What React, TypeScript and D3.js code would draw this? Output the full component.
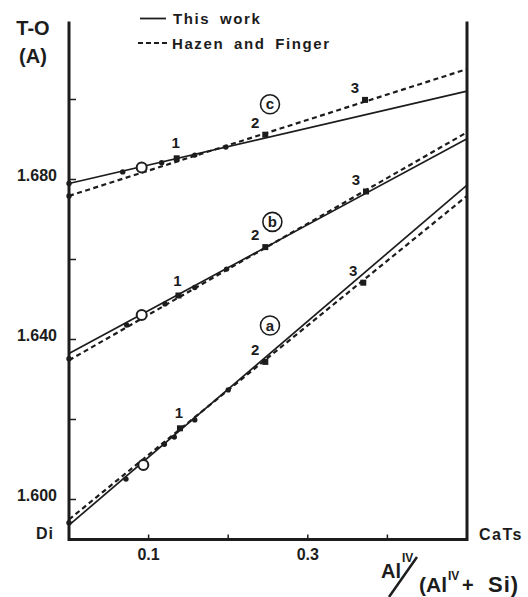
import React from 'react';
import * as d3 from 'd3';

// axis ticks (only some carry labels)
const xTicks = [0.1, 0.2, 0.3, 0.4];
const xTickLabels = [0.1, 0.3];
const yTicks = [1.6, 1.62, 1.64, 1.66, 1.68, 1.7];
const yTickLabels = [1.6, 1.64, 1.68];

// regression lines, [x, T-O]
const thisWorkA = [[0, 1.5936], [0.5, 1.6786]];
const thisWorkB = [[0, 1.6365], [0.5, 1.6902]];
const thisWorkC = [[0, 1.679], [0.5, 1.7021]];
const hazenA = [[0, 1.595], [0.5, 1.6759]];
const hazenB = [[0, 1.6348], [0.5, 1.6918]];
const hazenC = [[0, 1.6759], [0.5, 1.7076]];

// measured points
const dotsA = [[0, 1.5942], [0.0716, 1.6051], [0.1198, 1.6138], [0.1323, 1.6156], [0.158, 1.6199], [0.2, 1.6274]];
const dotsB = [[0, 1.6352], [0.0725, 1.6436], [0.1206, 1.6489], [0.158, 1.653], [0.198, 1.6576]];
const dotsC = [[0, 1.679], [0, 1.6759], [0.0675, 1.6819], [0.1164, 1.6842], [0.158, 1.6861], [0.197, 1.6881]];
const openA = [0.0934, 1.6086];
const openB = [0.0913, 1.6461];
const openC = [0.0913, 1.683];
const squaresA = [[0.1394, 1.6178], [0.2466, 1.6344], [0.3697, 1.6542]];
const squaresB = [[0.1375, 1.651], [0.2466, 1.6631], [0.3731, 1.677]];
const squaresC = [[0.1353, 1.6853], [0.2466, 1.6912], [0.3719, 1.6999]];
const squareTags = ['1', '2', '3'];

// circled series letters
const seriesNames = ['a', 'b', 'c'];
const seriesTagPos = [[0.2525, 1.6435], [0.2555, 1.6694], [0.2525, 1.6988]];

const FONT = '"Liberation Sans", Arial, sans-serif';
const INK = '#1c1c1c';

const App = () => {
    const x = d3.scaleLinear().domain([0, 0.5]).range([69, 467]);
    const y = d3.scaleLinear().domain([1.59, 1.72]).range([539.5, 19.5]);
    const line = d3.line<number[]>().x((d) => x(d[0])).y((d) => y(d[1]));

    const solids = [thisWorkA, thisWorkB, thisWorkC];
    const dashes = [hazenA, hazenB, hazenC];
    const dots = [dotsA, dotsB, dotsC];
    const opens = [openA, openB, openC];
    const squares = [squaresA, squaresB, squaresC];
    const tagDx = [-1, -10, -10];
    const tagDy = [-10, -7, -7];

    return (
        <svg width={528} height={597} style={{ position: 'absolute', left: 0, top: 0, background: '#fff' }}
            fontFamily={FONT} fill={INK}>
            {/* frame */}
            <path d={`M${x(0)},${y(1.7195)}V${y(1.59)}H${x(0.5)}V${y(1.7195)}`}
                fill="none" stroke={INK} strokeWidth={3} />
            {yTicks.map((t) => (
                <line key={t} x1={x(0)} x2={x(0) + 7} y1={y(t)} y2={y(t)} stroke={INK} strokeWidth={1.5} />
            ))}
            {xTicks.map((t) => (
                <line key={t} x1={x(t)} x2={x(t)} y1={y(1.59)} y2={y(1.59) - 5} stroke={INK} strokeWidth={1.5} />
            ))}
            {yTickLabels.map((t) => (
                <text key={t} x={57} y={y(t) + 1} textAnchor="end" fontSize={16} fontWeight="bold">
                    {d3.format('.3f')(t)}
                </text>
            ))}
            {xTickLabels.map((t) => (
                <text key={t} x={x(t)} y={560} textAnchor="middle" fontSize={16} fontWeight="bold">
                    {d3.format('.1f')(t)}
                </text>
            ))}
            <text x={54} y={539} textAnchor="end" fontSize={16} fontWeight="bold" letterSpacing={1}>Di</text>
            <text x={479} y={540} fontSize={16} fontWeight="bold" letterSpacing={1.5}>CaTs</text>

            {/* y title */}
            <text x={33} y={35} textAnchor="middle" fontSize={20} fontWeight="bold">T-O</text>
            <text x={33} y={63} textAnchor="middle" fontSize={20} fontWeight="bold">(A)</text>

            {/* x title */}
            <text x={381} y={578} fontSize={20} fontWeight="bold">Al</text>
            <text x={402} y={562} fontSize={12} fontWeight="bold">IV</text>
            <line x1={389} y1={597} x2={417} y2={557} stroke={INK} strokeWidth={2.5} />
            <text x={419} y={592} fontSize={21} fontWeight="bold">(Al</text>
            <text x={448} y={580} fontSize={12} fontWeight="bold">IV</text>
            <text x={462} y={592} fontSize={20} fontWeight="bold">+</text>
            <text x={488} y={592} fontSize={22} fontWeight="bold" letterSpacing={1}>Si)</text>

            {/* legend */}
            <line x1={140} x2={166} y1={18.5} y2={18.5} stroke={INK} strokeWidth={1.8} />
            <text x={173} y={24} fontSize={15} fontWeight="bold" letterSpacing={1.6} wordSpacing={4}>This work</text>
            <line x1={138} x2={170} y1={43} y2={43} stroke={INK} strokeWidth={2} strokeDasharray="5,3" />
            <text x={172} y={49} fontSize={15} fontWeight="bold" letterSpacing={1.6} wordSpacing={4}>Hazen and Finger</text>

            {/* lines */}
            {solids.map((s, i) => (
                <path key={'s' + i} d={line(s) || ''} fill="none" stroke={INK} strokeWidth={1.7} />
            ))}
            {dashes.map((s, i) => (
                <path key={'d' + i} d={line(s) || ''} fill="none" stroke={INK} strokeWidth={2.2} strokeDasharray="5,3.5" />
            ))}

            {/* points */}
            {dots.map((ds, i) => ds.map((p, j) => (
                <circle key={'p' + i + j} cx={x(p[0])} cy={y(p[1])} r={2.7} fill={INK} />
            )))}
            {opens.map((p, i) => (
                <circle key={'o' + i} cx={x(p[0])} cy={y(p[1])} r={5} fill="#fff" stroke={INK} strokeWidth={2} />
            ))}
            {squares.map((sq, i) => sq.map((p, j) => (
                <g key={'q' + i + j}>
                    <rect x={x(p[0]) - 3} y={y(p[1]) - 3} width={6} height={6} fill={INK} />
                    <text x={x(p[0]) + tagDx[j]} y={y(p[1]) + tagDy[j]} textAnchor="middle"
                        fontSize={15} fontWeight="bold">{squareTags[j]}</text>
                </g>
            )))}

            {/* circled series letters */}
            {seriesNames.map((n, i) => (
                <g key={n}>
                    <circle cx={x(seriesTagPos[i][0])} cy={y(seriesTagPos[i][1])} r={9.5}
                        fill="#fff" stroke={INK} strokeWidth={1.6} />
                    <text x={x(seriesTagPos[i][0])} y={y(seriesTagPos[i][1]) + 5} textAnchor="middle"
                        fontSize={15} fontWeight="bold">{n}</text>
                </g>
            ))}
        </svg>
    );
};

export default App;
